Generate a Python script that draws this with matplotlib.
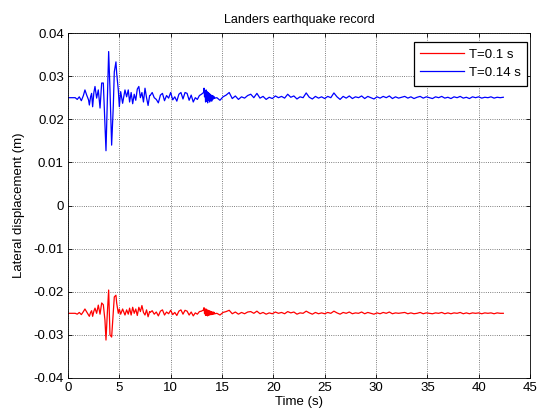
import numpy as np
import matplotlib
matplotlib.use("Agg")
import matplotlib.pyplot as plt

plt.rcParams['font.family'] = ['Liberation Sans', 'DejaVu Sans']

# ---- data ----
t_strong = [0, 0.7, 0.9, 1.1, 1.3, 1.5, 1.65, 1.82, 2.0, 2.08, 2.2, 2.3, 2.4, 2.52, 2.63,
            2.79, 2.95, 3.12, 3.28, 3.44, 3.6, 3.7, 3.83, 3.96, 4.09, 4.25, 4.41, 4.51,
            4.67, 4.74, 4.9, 5.0, 5.13, 5.32, 5.55, 5.71, 5.87, 6.0, 6.15, 6.3, 6.45, 6.6,
            6.75, 6.9, 7.05, 7.2, 7.35, 7.5, 7.65, 7.8, 7.95]
blue_strong = [0.025, 0.025, 0.0246, 0.0252, 0.0243, 0.0255, 0.0268, 0.0256, 0.0245, 0.0233,
               0.0252, 0.0260, 0.0229, 0.0262, 0.0276, 0.0249, 0.0268, 0.0226, 0.0284, 0.0284,
               0.0191, 0.0127, 0.0245, 0.0357, 0.0268, 0.0140, 0.0229, 0.0310, 0.0333, 0.0307,
               0.0268, 0.0229, 0.0264, 0.0237, 0.0268, 0.0252, 0.0268, 0.0240, 0.0262, 0.0236,
               0.0258, 0.0244, 0.0270, 0.0276, 0.0250, 0.0262, 0.0240, 0.0272, 0.0250, 0.0232,
               0.0255]
red_strong = [-0.025, -0.025, -0.0252, -0.0248, -0.0253, -0.0246, -0.0240, -0.0247, -0.0254,
              -0.0257, -0.0248, -0.0244, -0.0257, -0.0245, -0.0238, -0.0250, -0.0231, -0.0252,
              -0.0226, -0.0230, -0.0266, -0.0312, -0.0250, -0.0196, -0.0300, -0.0305, -0.0250,
              -0.0212, -0.0208, -0.0226, -0.0250, -0.0240, -0.0252, -0.0240, -0.0254, -0.0242,
              -0.0252, -0.0238, -0.0254, -0.0236, -0.0250, -0.0240, -0.0255, -0.0236, -0.0246,
              -0.0232, -0.0248, -0.0254, -0.0242, -0.0258, -0.0246]

# 8.0 s - 13.2 s, every 0.2 s
blue_mid = [0.0255, 0.0262, 0.0250, 0.0246, 0.0238, 0.0256, 0.0260, 0.0243, 0.0255, 0.0249,
            0.0262, 0.0245, 0.0252, 0.0242, 0.0258, 0.0262, 0.0247, 0.0262, 0.0260, 0.0244,
            0.0256, 0.0240, 0.0250, 0.0246, 0.0255, 0.0258, 0.0262]
red_mid = [-0.0248, -0.0244, -0.0252, -0.0247, -0.0256, -0.0245, -0.0242, -0.0254, -0.0247,
           -0.0251, -0.0243, -0.0253, -0.0248, -0.0255, -0.0245, -0.0242, -0.0252, -0.0243,
           -0.0245, -0.0254, -0.0247, -0.0256, -0.0249, -0.0252, -0.0246, -0.0245, -0.0242]

# 13.25 s - 14.3 s, every 0.05 s
blue_burst = [0.0272, 0.0252, 0.0266, 0.0240, 0.0268, 0.0242, 0.0264, 0.0238, 0.0262, 0.0244,
              0.0260, 0.0240, 0.0258, 0.0244, 0.0256, 0.0242, 0.0255, 0.0246, 0.0254, 0.0248,
              0.0252, 0.0249]
red_burst = [-0.0237, -0.0251, -0.0240, -0.0255, -0.0240, -0.0255, -0.0242, -0.0256, -0.0243,
             -0.0254, -0.0244, -0.0254, -0.0245, -0.0253, -0.0246, -0.0253, -0.0247, -0.0252,
             -0.0247, -0.0252, -0.0248, -0.0251]

# 14.5 s onwards, every 0.3 s
blue_tail = [0.0250, 0.0244, 0.0252, 0.0256, 0.0262, 0.0248, 0.0254, 0.0246, 0.0252, 0.0249,
             0.0255, 0.0258, 0.0250, 0.0260, 0.0249, 0.0253, 0.0246, 0.0251, 0.0248, 0.0254,
             0.0250, 0.0253, 0.0249, 0.0258, 0.0251, 0.0254, 0.0247, 0.0252, 0.0250, 0.0261,
             0.0251, 0.0247, 0.0253, 0.0249, 0.0252, 0.0248, 0.0253, 0.0250, 0.0261, 0.0252,
             0.0246, 0.0253, 0.0249, 0.0254, 0.0248, 0.0252, 0.0250, 0.0254, 0.0248, 0.0253,
             0.0250, 0.0247, 0.0252, 0.0249, 0.0253, 0.0250, 0.0254, 0.0248, 0.0252, 0.0249,
             0.0251, 0.0253, 0.0249, 0.0252, 0.0248, 0.0251, 0.0253, 0.0249, 0.0252, 0.0250,
             0.0248, 0.0252, 0.0250, 0.0253, 0.0249, 0.0251, 0.0248, 0.0252, 0.0250, 0.0253,
             0.0249, 0.0251, 0.0248, 0.0252, 0.0250, 0.0252, 0.0249, 0.0251, 0.0250, 0.0252,
             0.0249, 0.0251, 0.0250, 0.0251]
red_tail = [-0.0250, -0.0254, -0.0248, -0.0246, -0.0243, -0.0251, -0.0247, -0.0252, -0.0248,
            -0.0251, -0.0247, -0.0246, -0.0250, -0.0245, -0.0251, -0.0248, -0.0252, -0.0249,
            -0.0251, -0.0247, -0.0250, -0.0248, -0.0251, -0.0246, -0.0249, -0.0247, -0.0252,
            -0.0249, -0.0250, -0.0245, -0.0249, -0.0252, -0.0248, -0.0251, -0.0249, -0.0251,
            -0.0248, -0.0250, -0.0245, -0.0249, -0.0252, -0.0248, -0.0250, -0.0247, -0.0251,
            -0.0249, -0.0250, -0.0247, -0.0251, -0.0248, -0.0250, -0.0252, -0.0249, -0.0251,
            -0.0248, -0.0250, -0.0247, -0.0251, -0.0249, -0.0250, -0.0249, -0.0248, -0.0251,
            -0.0249, -0.0251, -0.0250, -0.0248, -0.0251, -0.0249, -0.0250, -0.0251, -0.0249,
            -0.0250, -0.0248, -0.0251, -0.0249, -0.0251, -0.0249, -0.0250, -0.0248, -0.0251,
            -0.0249, -0.0251, -0.0249, -0.0250, -0.0249, -0.0251, -0.0249, -0.0250, -0.0249,
            -0.0251, -0.0249, -0.0250, -0.0250]

labels = ["T=0.1 s", "T=0.14 s"]
x_ticks = [0, 5, 10, 15, 20, 25, 30, 35, 40, 45]
y_ticks = [-0.04, -0.03, -0.02, -0.01, 0, 0.01, 0.02, 0.03, 0.04]
y_ticklabels = ["-0.04", "-0.03", "-0.02", "-0.01", "0", "0.01", "0.02", "0.03", "0.04"]


def build(strong, mid, burst, tail):
    t = np.concatenate([
        np.array(t_strong[:len(strong)]),
        8.0 + 0.2 * np.arange(len(mid)),
        13.25 + 0.05 * np.arange(len(burst)),
        14.5 + 0.3 * np.arange(len(tail)),
    ])
    v = np.concatenate([strong, mid, burst, tail])
    return t, v


t_red, v_red = build(red_strong, red_mid, red_burst, red_tail)
t_blue, v_blue = build(blue_strong, blue_mid, blue_burst, blue_tail)

fig = plt.figure(figsize=(5.41, 4.16), dpi=100)
ax = fig.add_axes([68 / 541, 38 / 416, (530 - 68) / 541, (378 - 33) / 416])

ax.plot(t_red, v_red, color='#ff0000', lw=0.9, label=labels[0])
ax.plot(t_blue, v_blue, color='#0000ff', lw=0.9, label=labels[1])

ax.set_xlim(0, 45)
ax.set_ylim(-0.04, 0.04)
ax.set_xticks(x_ticks)
ax.set_yticks(y_ticks)
ax.set_yticklabels(y_ticklabels)
ax.tick_params(direction='in', top=True, right=True, labelsize=9.5, length=3, width=0.6,
               pad=3)
ax.grid(True, linestyle=':', color='#555555', linewidth=0.6)
for s in ax.spines.values():
    s.set_linewidth(0.6)
    s.set_color('black')

ax.set_title("Landers earthquake record", fontsize=9, pad=7)
ax.set_xlabel("Time (s)", fontsize=9.5, labelpad=1)
ax.set_ylabel("Lateral displacement (m)", fontsize=9.5, labelpad=6)

leg = ax.legend(loc='upper right', bbox_to_anchor=(0.9935, 0.974), fontsize=9.5,
                fancybox=False, framealpha=1, edgecolor='black', borderaxespad=0.0,
                handlelength=3.3, handletextpad=0.35, borderpad=0.5, labelspacing=0.45)
leg.get_frame().set_linewidth(0.9)

fig.savefig("out.png", dpi=100)
